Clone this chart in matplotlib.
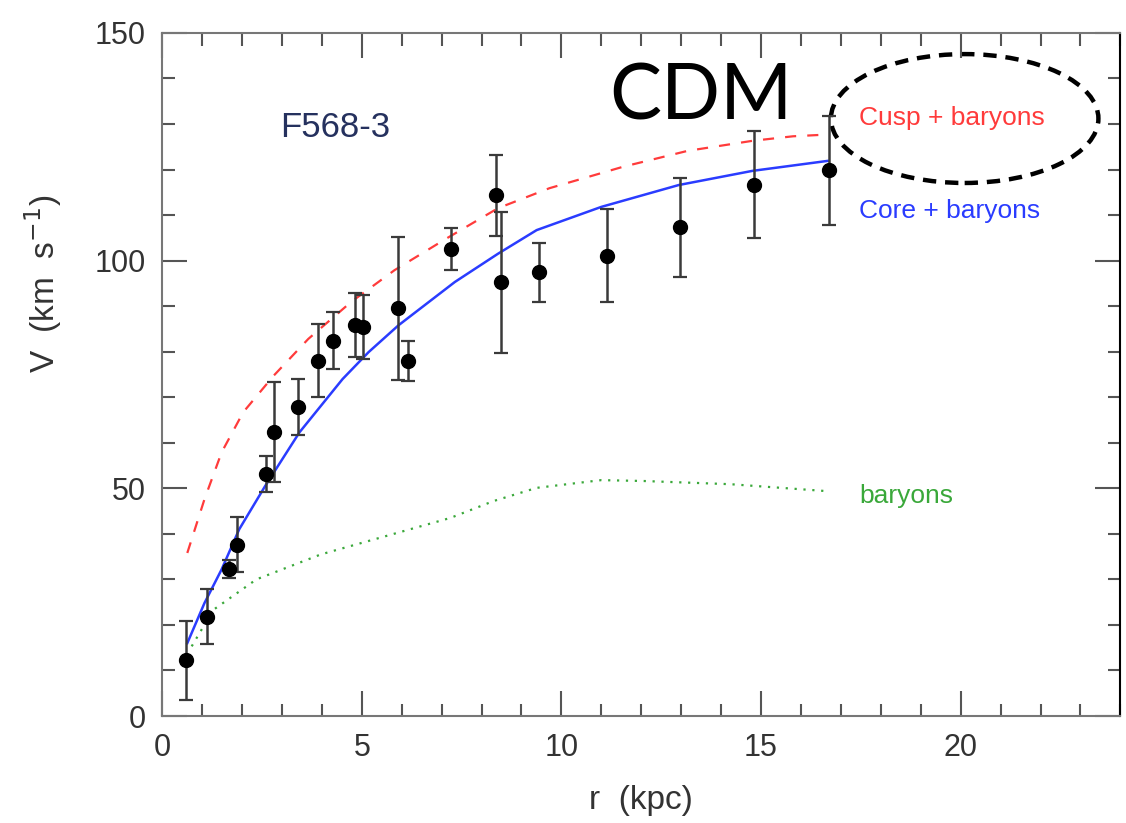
import numpy as np
import matplotlib
matplotlib.use("Agg")
import matplotlib.pyplot as plt
from matplotlib.patches import Ellipse
from matplotlib.ticker import MultipleLocator

# --- Messpunkte (r in kpc, V in km/s) ---
r_obs = [0.6, 1.12, 1.67, 1.88, 2.6, 2.79, 3.41, 3.9, 4.27, 4.82, 5.04,
         5.9, 6.15, 7.24, 8.36, 8.48, 9.45, 11.15, 12.98, 14.83, 16.7]
v_obs = [12.2, 21.8, 32.3, 37.6, 53.1, 62.3, 67.9, 78.0, 82.4, 85.8, 85.4,
         89.5, 78.0, 102.6, 114.3, 95.2, 97.4, 101.1, 107.3, 116.7, 119.8]
v_err = [8.6, 6.0, 2.0, 6.0, 4.0, 11.0, 6.2, 8.0, 6.3, 7.0, 7.0,
         15.7, 4.4, 4.6, 8.9, 15.5, 6.4, 10.2, 10.8, 11.7, 11.9]

# --- Modellkurven ---
r_core = [0.63, 1.06, 1.49, 1.93, 2.58, 3.44, 4.52, 5.17, 5.92, 7.33, 8.41,
          9.38, 11.0, 12.94, 14.78, 16.67]
v_core = [16.0, 24.8, 32.2, 41.0, 50.5, 62.3, 74.0, 79.9, 85.8, 95.3, 101.5,
          106.7, 111.8, 116.6, 119.7, 121.9]

r_cusp = [0.63, 1.06, 1.49, 2.03, 2.79, 3.66, 4.73, 5.82, 7.11, 8.41, 9.7,
          11.54, 13.16, 14.78, 15.8, 16.7]
v_cusp = [35.8, 47.6, 57.9, 66.7, 74.7, 82.8, 90.9, 97.9, 104.8, 111.5, 115.9,
          120.6, 124.1, 126.3, 127.3, 127.7]

r_bar = [0.74, 1.28, 2.36, 3.98, 5.6, 7.22, 8.3, 9.38, 11.0, 12.08, 14.24, 16.62]
v_bar = [15.3, 23.3, 30.0, 35.5, 39.5, 43.5, 47.2, 50.1, 51.8, 51.6, 50.9, 49.4]

RED = "#ff3b3b"
BLUE = "#2a3cff"
GREEN = "#3aa83a"

fig = plt.figure(figsize=(11.26, 8.23), dpi=100)
ax = fig.add_axes([0.144, 0.130, 0.851, 0.830])

ax.plot(r_cusp, v_cusp, color=RED, lw=1.6, dashes=(5, 5))
ax.plot(r_core, v_core, color=BLUE, lw=1.8)
ax.plot(r_bar, v_bar, color=GREEN, lw=1.6, dashes=(1, 3))

ax.errorbar(r_obs, v_obs, yerr=v_err, fmt="o", color="black", ms=10,
            ecolor="#3a3a3a", elinewidth=1.8, capsize=5, capthick=1.6)

ax.set_xlim(0, 24)
ax.set_ylim(0, 150)
ax.xaxis.set_major_locator(MultipleLocator(5))
ax.xaxis.set_minor_locator(MultipleLocator(1))
ax.yaxis.set_major_locator(MultipleLocator(50))
ax.yaxis.set_minor_locator(MultipleLocator(10))
ax.tick_params(which="both", direction="in", top=True, right=True,
               color="#555555", width=1.5)
ax.tick_params(which="major", length=18, labelsize=22, labelcolor="#333333", pad=12)
ax.tick_params(which="minor", length=9)
for lab in ax.get_xticklabels() + ax.get_yticklabels():
    lab.set_fontfamily("Liberation Sans")
for s in ax.spines.values():
    s.set_color("#777777")
    s.set_linewidth(1.5)
ax.spines["right"].set_color("black")

ax.set_xlabel("r  (kpc)", fontsize=24, color="#333333", family="Liberation Sans",
              labelpad=16)
fig.text(0.038, 0.655, r"V  (km  s$^{-1}$)", rotation=90, fontsize=24,
         color="#333333", family="Liberation Sans", ha="center", va="center")

# --- Beschriftungen ---
ax.text(2.95, 127.2, "F568-3", fontsize=25, color="#25315e", family="Liberation Sans")
ax.text(11.2, 131.0, "CDM", fontsize=56, color="black", family="Lato")
ax.text(17.45, 131.3, "Cusp + baryons", fontsize=19, color=RED,
        family="Liberation Sans", va="center")
ax.text(17.45, 111.0, "Core + baryons", fontsize=19, color=BLUE,
        family="Liberation Sans", va="center")
ax.text(17.45, 48.3, "baryons", fontsize=19, color=GREEN,
        family="Liberation Sans", va="center")

ell = Ellipse((20.1, 131.2), width=6.7, height=28.3, fill=False,
              edgecolor="black", lw=3.2, linestyle=(0, (3, 2)), clip_on=False)
ax.add_patch(ell)

fig.savefig("out.png", dpi=100)
